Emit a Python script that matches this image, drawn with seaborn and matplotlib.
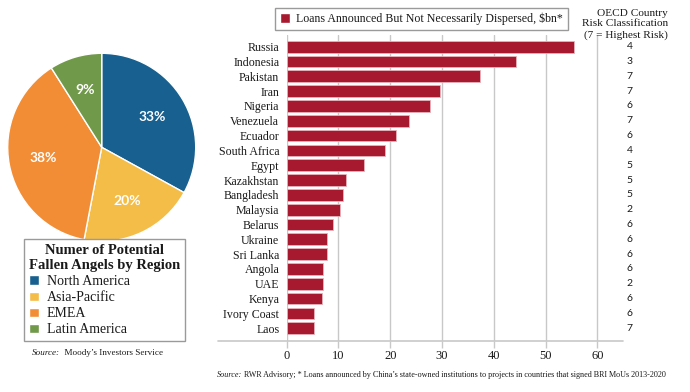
import matplotlib
matplotlib.use("Agg")
import matplotlib.pyplot as plt
from matplotlib.patches import Patch
from matplotlib.lines import Line2D
import seaborn as sns
import pandas as pd

# ---- pie data ----
regions = ["North America", "Asia-Pacific", "EMEA", "Latin America"]
region_share = [33, 20, 38, 9]
region_colors = ["#18608F", "#F3BD48", "#F28D35", "#70994A"]

# ---- bar data ----
countries = ["Russia", "Indonesia", "Pakistan", "Iran", "Nigeria", "Venezuela",
             "Ecuador", "South Africa", "Egypt", "Kazakhstan", "Bangladesh",
             "Malaysia", "Belarus", "Ukraine", "Sri Lanka", "Angola", "UAE",
             "Kenya", "Ivory Coast", "Laos"]
loans = [55.5, 44.2, 37.3, 29.7, 27.7, 23.6, 21.2, 18.9, 15.0, 11.5, 10.9,
         10.2, 8.9, 7.8, 7.7, 7.0, 7.0, 6.8, 5.2, 5.2]
risk = [4, 3, 7, 7, 6, 7, 6, 4, 5, 5, 5, 2, 6, 6, 6, 6, 2, 6, 6, 7]
x_ticks = [0, 10, 20, 30, 40, 50, 60]

BAR_RED = "#A6192E"
GRID = "#c8c8c8"
TXT = "#1a1a1a"

sns.set_style("white")
plt.rcParams["font.family"] = ["Liberation Serif", "DejaVu Serif"]
plt.rcParams["text.color"] = TXT

W, H = 690, 392
fig = plt.figure(figsize=(6.9, 3.92), dpi=100)

# ---------------- pie ----------------
cx, cy, r = 101.7, 147.3, 94
ax_pie = fig.add_axes([(cx - r) / W, 1 - (cy + r) / H, 2 * r / W, 2 * r / H])
wedges, texts, autotexts = ax_pie.pie(
    region_share, colors=region_colors, startangle=90, counterclock=False,
    autopct=lambda p: f"{p:.0f}%", pctdistance=0.63,
    wedgeprops=dict(edgecolor="white", linewidth=1),
    textprops=dict(color="white", fontsize=10, fontweight="bold", family="Lato"))
ax_pie.set_xlim(-1, 1)
ax_pie.set_ylim(-1, 1)

leg1 = fig.legend(handles=[Patch(facecolor=c) for c in region_colors], labels=regions,
                  title="Numer of Potential\nFallen Angels by Region",
                  loc="upper left", bbox_to_anchor=(24 / W, 1 - 239.3 / H),
                  frameon=True, fancybox=False, framealpha=1, edgecolor="#9a9a9a",
                  fontsize=10, title_fontproperties={"weight": "bold", "size": 10.5},
                  handlelength=0.7, handleheight=0.7, handletextpad=0.6,
                  labelspacing=0.22, borderpad=0.35, borderaxespad=0,
                  alignment="left")
leg1.get_title().set_multialignment("center")
leg1.get_frame().set_linewidth(1)

# ---------------- bars ----------------
x0, x1 = 286.7, 623.2
ax = fig.add_axes([x0 / W, 1 - 340.7 / H, (x1 - x0) / W, (340.7 - 35) / H])
df = pd.DataFrame({"country": countries, "loans": loans})
sns.barplot(data=df, x="loans", y="country", color=BAR_RED, saturation=1,
            width=0.79, edgecolor="#E7B3BA", linewidth=0.6, ax=ax)
ax.set_xlim(0, 65)
ax.set_ylim(19.84, -0.79)
ax.set_xticks(x_ticks)
ax.grid(axis="x", color=GRID, linewidth=1)
ax.grid(axis="y", visible=False)
ax.set_axisbelow(True)
for s in ax.spines.values():
    s.set_visible(False)
ax.add_line(Line2D([-0.204, 1.0], [0, 0], transform=ax.transAxes, color=GRID,
                   linewidth=1.2, clip_on=False))
ax.tick_params(axis="x", length=5, color=GRID, width=1, labelsize=9, pad=2,
               labelcolor=TXT, bottom=True)
ax.tick_params(axis="y", length=0, labelsize=8.6, pad=5.3, labelcolor=TXT)
ax.set_xlabel("")
ax.set_ylabel("")

for i, v in enumerate(risk):
    ax.text(66.3, i, str(v), ha="center", va="center", fontsize=7.5,
            family="Lato", color=TXT, clip_on=False)

for yy, line in zip([13.3, 24, 35],
                    ["OECD Country", "Risk Classification", "(7 = Highest Risk)"]):
    fig.text(668 / W, 1 - yy / H, line, ha="right", va="center", fontsize=8.1)

leg2 = ax.legend(handles=[Patch(facecolor=BAR_RED)],
                 labels=["Loans Announced But Not Necessarily Dispersed, $bn*"],
                 loc="center", bbox_to_anchor=((276 + 567) / 2 / W, 1 - 19 / H),
                 bbox_transform=fig.transFigure, frameon=True, fancybox=False,
                 framealpha=1, edgecolor="#9a9a9a", fontsize=8.6,
                 handlelength=0.9, handleheight=0.9, handletextpad=0.5,
                 borderpad=0.4, borderaxespad=0)
leg2.get_frame().set_linewidth(1)

# ---------------- sources ----------------
fig.canvas.draw()
rend = fig.canvas.get_renderer()


def source_line(x, y, rest, size):
    t = fig.text(x / W, 1 - y / H, "Source:", style="italic", fontsize=size,
                 ha="left", va="center")
    bb = t.get_window_extent(rend)
    fig.text(bb.x1 / W, 1 - y / H, rest, fontsize=size, ha="left", va="center")


source_line(32.3, 352.7, "  Moody\u2019s Investors Service", 6.6)
source_line(217, 375, " RWR Advisory; * Loans announced by China\u2019s state-owned "
            "institutions to projects in countries that signed BRI MoUs 2013-2020", 5.9)

fig.savefig("out.png", dpi=100)
